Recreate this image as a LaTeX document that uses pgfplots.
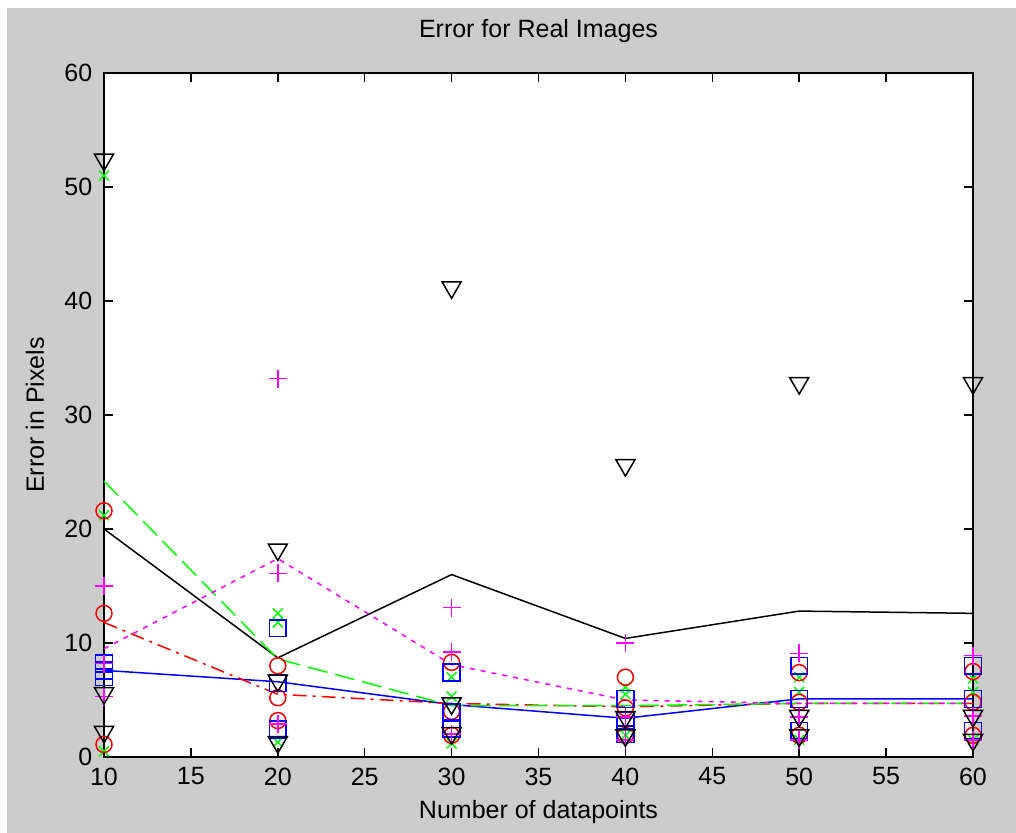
\documentclass[border=0pt]{standalone}
\usepackage{fontspec}
\setmainfont{Liberation Sans}
\usepackage{pgfplots}
\pgfplotsset{compat=1.18}
\definecolor{figgray}{RGB}{204,204,204}
\definecolor{mblue}{RGB}{0,0,255}
\definecolor{mred}{RGB}{255,0,0}
\definecolor{mgreen}{RGB}{0,255,0}
\definecolor{mmag}{RGB}{255,0,255}
\begin{document}
\fontsize{12.5}{15}\selectfont
\begin{tikzpicture}
\useasboundingbox (0,0) rectangle (508pt,416.5pt);
\fill[white] (0,0) rectangle (508pt,416.5pt);
\fill[figgray] (3.5pt,0) rectangle (508pt,412.5pt);
\begin{axis}[
  at={(52pt,38pt)}, anchor=south west,
  scale only axis, width=434.5pt, height=342pt,
  xmin=10, xmax=60, ymin=0, ymax=60,
  xtick={10,15,...,60}, ytick={0,10,...,60},
  tick align=inside, tick pos=both,
  major tick length=4.5pt,
  axis line style={line width=0.75pt},
  every tick/.style={black, line width=0.75pt},
  axis background/.style={fill=white},
  /pgf/number format/assume math mode=true,
  tick label style={font=\fontsize{12.5}{15}\selectfont},
  yticklabel style={xshift=-1.5pt},
  xticklabel style={yshift=-1pt},
  title={Error for Real Images},
  title style={at={(axis description cs:0.5,1.0439)}, anchor=center, font=\fontsize{12.5}{15}\selectfont},
  xlabel={Number of datapoints},
  xlabel style={at={(axis description cs:0.5,-0.0804)}, anchor=center, font=\fontsize{12.5}{15}\selectfont},
  ylabel={Error in Pixels},
  ylabel style={at={(axis description cs:-0.0794,0.5)}, anchor=center, rotate=0, font=\fontsize{12.5}{15}\selectfont},
  clip=false,
]
% mean lines
\addplot[black, line width=0.75pt] coordinates {(10,20) (20,8.7) (30,16) (40,10.4) (50,12.8) (60,12.6)};
\addplot[mblue, line width=0.75pt] coordinates {(10,7.6) (20,6.6) (30,4.6) (40,3.4) (50,5.1) (60,5.1)};
\addplot[mred, line width=0.75pt, dash pattern=on 7pt off 3pt on 1.5pt off 3pt] coordinates {(10,11.8) (20,5.5) (30,4.7) (40,4.4) (50,4.7) (60,4.7)};
\addplot[mgreen, line width=0.75pt, dash pattern=on 10pt off 4pt] coordinates {(10,24.2) (20,8.6) (30,4.5) (40,4.5) (50,4.7) (60,4.7)};
\addplot[mmag, line width=0.75pt, dash pattern=on 2.5pt off 3pt] coordinates {(10,9.5) (20,17.4) (30,8.1) (40,5.0) (50,4.7) (60,4.7)};
% individual points
\addplot[only marks, mgreen, mark=x, mark size=3.5pt, mark options={line width=0.75pt}] coordinates {
 (10,51.0) (10,21.2) (10,0.5)
 (20,12.6) (20,11.8) (20,1.3)
 (30,7.0) (30,5.3) (30,1.2)
 (40,6.1) (40,5.5) (40,1.9)
 (50,7.0) (50,5.7) (50,1.5)
 (60,6.9) (60,5.7) (60,1.5)};
\addplot[only marks, mred, mark=o, mark size=4pt, mark options={line width=0.75pt}] coordinates {
 (10,21.6) (10,12.6) (10,1.1)
 (20,8.0) (20,5.2) (20,3.2)
 (30,8.3) (30,4.0) (30,1.9)
 (40,7.0) (40,4.3) (40,1.9)
 (50,7.4) (50,4.8) (50,1.9)
 (60,7.5) (60,4.8) (60,1.9)};
\addplot[only marks, mblue, mark=square, mark size=4.2pt, mark options={line width=0.75pt}] coordinates {
 (10,8.2) (10,7.6) (10,7.0)
 (20,11.3) (20,6.5) (20,2.4)
 (30,7.4) (30,3.9) (30,2.5)
 (40,5.1) (40,3.2) (40,2.0)
 (50,8.0) (50,5.1) (50,2.3)
 (60,8.0) (60,5.1) (60,2.3)};
\addplot[only marks, mmag, mark=+, mark size=4.5pt, mark options={line width=0.75pt}] coordinates {
 (10,15.0) (10,8.2) (10,5.3)
 (20,33.2) (20,16.1) (20,2.9)
 (30,13.1) (30,9.2) (30,2.0)
 (40,10.0) (40,3.5) (40,1.5)
 (50,9.1) (50,3.5) (50,1.5)
 (60,8.9) (60,3.6) (60,1.5)};
\addplot[only marks, black, mark=triangle, mark size=5.5pt, mark options={line width=0.75pt, rotate=180}] coordinates {
 (10,52.4) (10,5.6) (10,2.2)
 (20,18.2) (20,6.7) (20,1.3)
 (30,41.2) (30,4.7) (30,2.1)
 (40,25.6) (40,3.5) (40,1.9)
 (50,32.8) (50,3.6) (50,1.9)
 (60,32.8) (60,3.6) (60,1.5)};
\end{axis}
\end{tikzpicture}
\end{document}
